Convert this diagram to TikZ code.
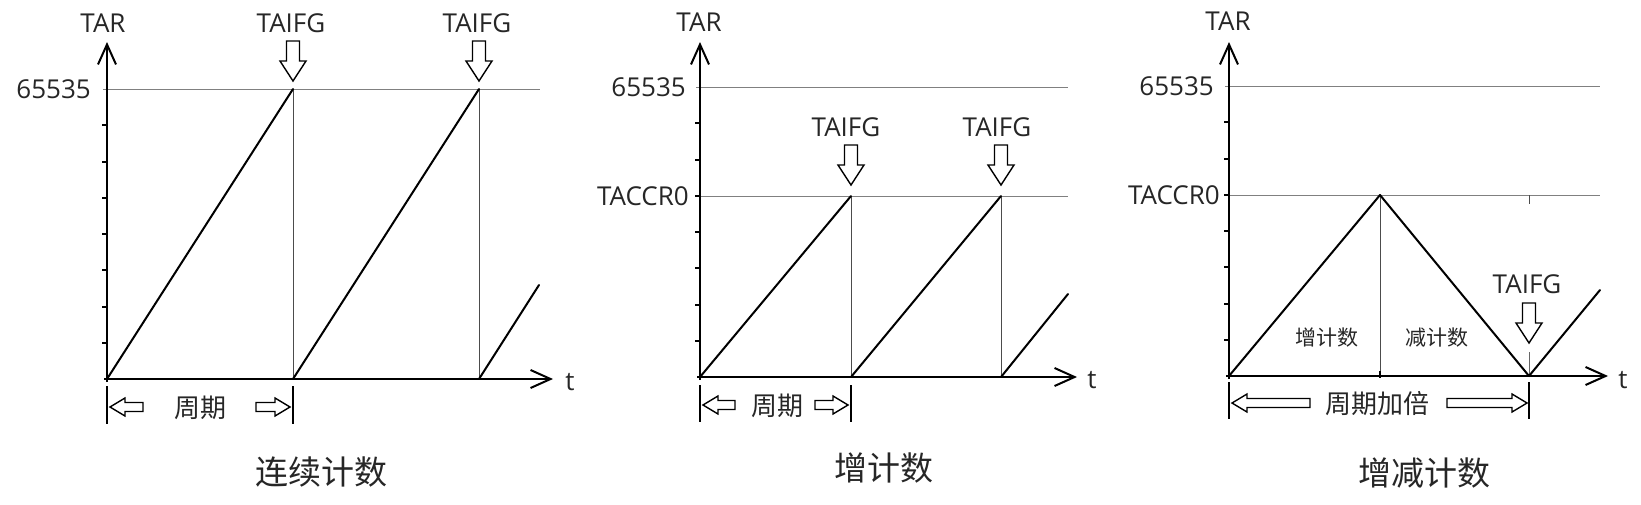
\documentclass[tikz,border=0pt]{standalone}
\usepackage{fontspec}
\setmainfont{Open Sans}
\newfontfamily\cjk{Noto Sans CJK SC}
\usetikzlibrary{arrows.meta}
\tikzset{
  axisline/.style={line width=2pt, -{Straight Barb[length=20pt,width=18pt]}},
  ramp/.style={line width=2pt, line cap=round, line join=round},
  refline/.style={line width=1pt, black!50},
  dropline/.style={line width=1pt, black!70},
  tickmark/.style={line width=2pt},
  perbar/.style={line width=1.5pt},
  lbl/.style={font=\fontsize{26}{30}\selectfont, inner sep=0pt, text=black!85},
  captxt/.style={font=\cjk\fontsize{33}{38}\selectfont, inner sep=0pt, text=black!85},
  perlbl/.style={font=\cjk\fontsize{26}{30}\selectfont, inner sep=0pt, text=black!85},
  inlbl/.style={font=\cjk\fontsize{21}{25}\selectfont, inner sep=0pt, text=black!85},
  pics/darr/.style={code={\draw[line width=1.4pt, line join=miter]
     (0,0) -- (-13,-20) -- (-6.5,-20) -- (-6.5,-40) -- (6.5,-40) -- (6.5,-20) -- (13,-20) -- cycle;}},
  pics/larr/.style={code={\draw[line width=1.4pt]
     (0,0) -- (15,-9) -- (15,-4.5) -- (#1,-4.5) -- (#1,4.5) -- (15,4.5) -- (15,9) -- cycle;}},
  pics/rarr/.style={code={\draw[line width=1.4pt]
     (0,0) -- (-15,-9) -- (-15,-4.5) -- (-#1,-4.5) -- (-#1,4.5) -- (-15,4.5) -- (-15,9) -- cycle;}},
}
\begin{document}
\begin{tikzpicture}[x=1pt,y=-1pt]
\useasboundingbox (0,0) rectangle (1641,504);

% ================= Panel 1 =================
\coordinate (a0) at (107,379);
\coordinate (a1) at (293,379);
\coordinate (a2) at (479,379);
\coordinate (p1) at (293,89);
\coordinate (p2) at (479,89);
\coordinate (a3) at (539,285);
\draw[refline] (103,89) -- (540,89);
\draw[dropline] (p1) -- (a1);
\draw[dropline] (p2) -- (a2);
\draw[ramp] (a0) -- (p1);
\draw[ramp] (a1) -- (p2);
\draw[ramp] (a2) -- (a3);
\foreach \k in {1,...,7} \draw[tickmark] (107,{89+36.25*\k}) -- ++(-5,0);
\draw[axisline] (104,379) -- (553,379);
\draw[axisline] (107,382) -- (107,42);
\node[lbl] (tar1) at (103,23) {TAR};
\node[lbl, anchor=east] (max1) at (91,89) {65535};
\node[lbl] (fg1a) at (291,23) {TAIFG};
\node[lbl] (fg1b) at (477,23) {TAIFG};
\pic at (293,81) {darr};
\pic at (479,81) {darr};
\node[lbl] (t1) at (570,382) {t};
\draw[perbar] (107,386) -- (107,424);
\draw[perbar] (293,386) -- (293,424);
\pic at (110,407) {larr=33};
\pic at (290,407) {rarr=34};
\node[perlbl] (per1) at (200,408) {周期};
\node[captxt] (cap1) at (321,472) {连续计数};

% ================= Panel 2 =================
\coordinate (b0) at (700,377);
\coordinate (b1) at (851,377);
\coordinate (b2) at (1001,377);
\coordinate (q1) at (851,196);
\coordinate (q2) at (1001,196);
\coordinate (b3) at (1068,294);
\draw[refline] (696,87) -- (1068,87);
\draw[refline] (696,196) -- (1068,196);
\draw[dropline] (q1) -- (b1);
\draw[dropline] (q2) -- (b2);
\draw[ramp] (b0) -- (q1);
\draw[ramp] (b1) -- (q2);
\draw[ramp] (b2) -- (b3);
\foreach \k in {1,...,7} \draw[tickmark] (700,{87+36.25*\k}) -- ++(-5,0);
\draw[axisline] (697,377) -- (1077,377);
\draw[axisline] (700,380) -- (700,42);
\node[lbl] (tar2) at (699,22) {TAR};
\node[lbl, anchor=east] (max2) at (686,87) {65535};
\node[lbl, anchor=east] (ccr2) at (689,196) {TACCR0};
\node[lbl] (fg2a) at (846,127) {TAIFG};
\node[lbl] (fg2b) at (997,127) {TAIFG};
\pic at (851,185) {darr};
\pic at (1001,185) {darr};
\node[lbl] (t2) at (1092,380) {t};
\draw[perbar] (700,385) -- (700,422);
\draw[perbar] (851,385) -- (851,422);
\pic at (703,405) {larr=32};
\pic at (848,405) {rarr=33};
\node[perlbl] (per2) at (777,406) {周期};
\node[captxt] (cap2) at (884,468) {增计数};

% ================= Panel 3 =================
\coordinate (c0) at (1229,376);
\coordinate (r1) at (1380,195);
\coordinate (c1) at (1380,376);
\coordinate (c2) at (1529,376);
\coordinate (c3) at (1600,290);
\draw[refline] (1225,86) -- (1600,86);
\draw[refline] (1225,195) -- (1600,195);
\draw[dropline] (r1) -- (c1);
\draw[line width=1pt, black!70] (1529,195) -- (1529,204);
\draw[line width=1pt, black!60] (1529,352) -- (c2);
\draw[line width=2pt] (1380,371) -- (1380,378);
\draw[ramp] (c0) -- (r1) -- (c2) -- (c3);
\foreach \k in {1,...,7} \draw[tickmark] (1229,{86+36.25*\k}) -- ++(-5,0);
\draw[axisline] (1226,376) -- (1608,376);
\draw[axisline] (1229,379) -- (1229,42);
\node[lbl] (tar3) at (1228,21) {TAR};
\node[lbl, anchor=east] (max3) at (1214,86) {65535};
\node[lbl, anchor=east] (ccr3) at (1220,195) {TACCR0};
\node[lbl] (fg3) at (1527,284) {TAIFG};
\pic at (1529,343) {darr};
\node[inlbl] (up3) at (1327,338) {增计数};
\node[inlbl] (dn3) at (1437,338) {减计数};
\node[lbl] (t3) at (1623,380) {t};
\draw[perbar] (1229,382) -- (1229,419);
\draw[perbar] (1529,382) -- (1529,419);
\pic at (1232,403) {larr=78};
\pic at (1527,403) {rarr=80};
\node[perlbl] (per3) at (1377,404) {周期加倍};
\node[captxt] (cap3) at (1424,473) {增减计数};
\end{tikzpicture}
\end{document}
